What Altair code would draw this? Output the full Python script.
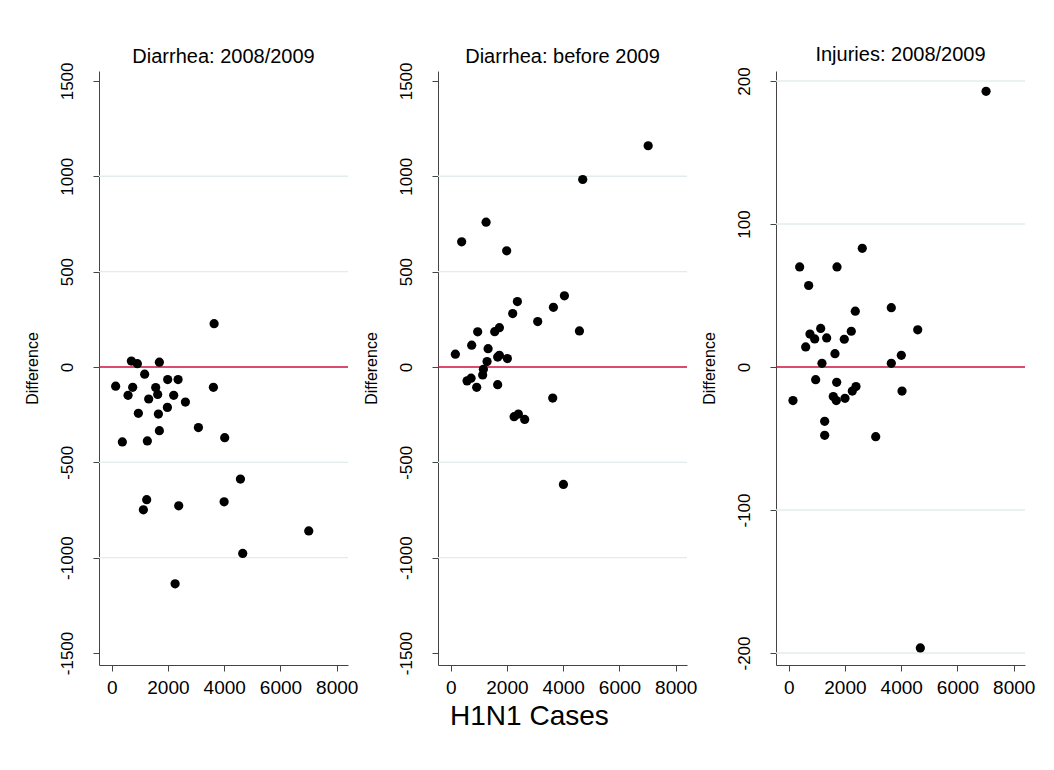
import altair as alt
import pandas as pd

# ---- data ----
d1_x = [3641, 701, 914, 1696, 1173, 142, 747, 1565, 1991, 2361, 3616, 583, 1636, 1316, 2205, 2621,
        949, 1661, 1981, 1696, 3083, 380, 1269, 4018, 4577, 1245, 1127, 2383, 3997, 7005, 4658, 2255]
d1_y = [227, 31, 17, 25, -38, -101, -107, -108, -66, -66, -107, -149, -144, -168, -149, -184,
        -243, -247, -212, -334, -318, -393, -388, -371, -588, -696, -749, -728, -707, -860, -978, -1137]

d2_x = [7020, 4694, 1259, 391, 1991, 2372, 4043, 3652, 2205, 3094, 4577, 960, 1565, 1732, 747, 1330,
        167, 1671, 1732, 2016, 1294, 1163, 1138, 583, 725, 925, 1671, 3627, 2255, 2407, 2631, 4008]
d2_y = [1160, 983, 759, 656, 609, 343, 373, 313, 280, 238, 189, 184, 185, 206, 114, 96,
        67, 52, 61, 44, 28, -12, -42, -73, -59, -107, -93, -163, -261, -247, -275, -616]

i_x = [7016, 2617, 391, 1718, 711, 2368, 3648, 4587, 757, 1138, 925, 1351, 1977, 2226, 605, 1646,
       4004, 1184, 3648, 960, 1707, 4029, 153, 1586, 1693, 2002, 2262, 2393, 1280, 1280, 3094, 4680]
i_y = [192.8, 83, 70, 70, 57, 39, 41.5, 26, 23, 27, 19.6, 20.3, 19.4, 25, 14, 9.3,
       8.2, 2.6, 2.6, -8.9, -10.7, -16.8, -23.5, -20.7, -23.5, -21.9, -16.8, -13.7, -38, -47.8, -48.7, -196.5]

titles = ["Diarrhea: 2008/2009", "Diarrhea: before 2009", "Injuries: 2008/2009"]
x_ticks = [0, 2000, 4000, 6000, 8000]
d_ticks = [-1500, -1000, -500, 0, 500, 1000, 1500]
d_grid = [-1000, -500, 500, 1000]
i_ticks = [-200, -100, 0, 100, 200]
i_grid = [-200, -100, 100, 200]

FONT = "Liberation Sans"
X_DOMAIN = [-450, 8400]
HYPHEN = "datum.value < 0 ? '-' + format(-datum.value, 'd') : format(datum.value, 'd')"


def panel(xs, ys, title, ydom, yticks, ygrid, toff):
    xenc = alt.X("x:Q", scale=alt.Scale(domain=X_DOMAIN, nice=False, zero=False),
                 axis=alt.Axis(values=x_ticks, title=None, format="d", grid=False,
                               tickSize=6, labelPadding=7, labelFontSize=19,
                               labelFont=FONT, labelColor="black",
                               domainColor="#444444", tickColor="#444444"))
    yscale = alt.Scale(domain=ydom, nice=False, zero=False)
    yenc = alt.Y("y:Q", scale=yscale,
                 axis=alt.Axis(values=yticks, title="Difference", labelExpr=HYPHEN, grid=False,
                               tickSize=6, labelPadding=17, labelAngle=270,
                               labelAlign="center", labelBaseline="bottom",
                               labelFontSize=17, labelFont=FONT, labelColor="black",
                               titleFont=FONT, titleFontSize=16, titleFontWeight="normal",
                               titleColor="black", titlePadding=18,
                               domainColor="#444444", tickColor="#444444"))
    grid = alt.Chart(pd.DataFrame({"y": ygrid})).mark_rule(
        color="#e2ecec", strokeWidth=1.3).encode(y=yenc)
    zero = alt.Chart(pd.DataFrame({"y": [0]})).mark_rule(
        color="#cc1040", strokeWidth=1.6).encode(y=yenc)
    pts = alt.Chart(pd.DataFrame({"x": xs, "y": ys})).mark_circle(
        size=85, color="black", opacity=1).encode(x=xenc, y=yenc)
    return alt.layer(grid, zero, pts).properties(
        width=249, height=594,
        view=alt.ViewConfig(stroke="transparent", strokeWidth=0),
        title=alt.TitleParams(title, font=FONT, fontSize=20, fontWeight="normal",
                              color="black", anchor="middle", offset=toff))


p1 = panel(d1_x, d1_y, titles[0], [-1563, 1552], d_ticks, d_grid, -5)
p2 = panel(d2_x, d2_y, titles[1], [-1563, 1552], d_ticks, d_grid, -5)
p3 = panel(i_x, i_y, titles[2], [-208.4, 207], i_ticks, i_grid, 2)

chart = alt.hconcat(p1, p2, p3, spacing=4).properties(
    title=alt.TitleParams("H1N1 Cases", orient="bottom", anchor="middle", font=FONT,
                          fontSize=28, fontWeight="normal", color="black", offset=6),
    padding={"left": 23, "top": 44, "right": 5, "bottom": 5},
).configure_view(stroke="transparent", strokeWidth=0).configure(background="white")

chart.save("out.html", embed_options={"renderer": "svg", "actions": False})
